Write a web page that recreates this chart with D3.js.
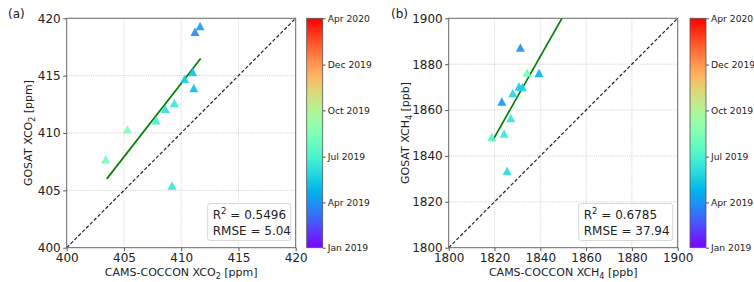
<!DOCTYPE html>
<html>
<head>
<meta charset="utf-8">
<script src="https://cdn.jsdelivr.net/npm/d3@7"></script>
<style>
body { margin: 0; background: #fff; }
svg { font-family: "DejaVu Sans", sans-serif; }
</style>
</head>
<body>
<svg id="chart" width="754" height="282"></svg>
<script>
// panel (a) - XCO2 [ppm]
var co2Cams  = [411.65, 411.2, 411.0, 410.3, 411.1, 409.4, 408.6, 407.8, 405.3, 403.4, 409.2];
var co2Gosat = [419.3, 418.8, 415.3, 414.7, 413.9, 412.6, 412.1, 411.1, 410.3, 407.7, 405.4];
var co2Dates = ["2019-04-08", "2019-03-25", "2019-05-08", "2019-05-18", "2019-05-04", "2019-06-10",
                "2019-06-05", "2019-06-20", "2019-08-15", "2019-08-05", "2019-06-12"];
var co2Fit   = [[403.5, 406.0], [411.7, 416.5]];
var co2Ticks = [400, 405, 410, 415, 420];
var co2Stats = ["0.5496", "5.04"];

// panel (b) - XCH4 [ppb]
var ch4Cams  = [1831.3, 1834.2, 1839.4, 1830.7, 1832.2, 1828.0, 1823.2, 1827.1, 1824.2, 1818.8, 1825.5];
var ch4Gosat = [1887.2, 1876.3, 1876.0, 1870.2, 1869.9, 1867.3, 1863.6, 1856.4, 1849.7, 1848.1, 1833.4];
var ch4Dates = ["2019-03-28", "2019-08-05", "2019-04-25", "2019-05-15", "2019-05-20", "2019-05-25",
                "2019-04-05", "2019-06-10", "2019-06-15", "2019-07-10", "2019-05-30"];
var ch4Fit   = [[1819.1, 1846.6], [1852, 1904.5]];
var ch4Ticks = [1800, 1820, 1840, 1860, 1880, 1900];
var ch4Stats = ["0.6785", "37.94"];

// colour bar (time)
var cbarRange  = ["2019-01-01", "2020-04-01"];
var cbarTicks  = ["2019-01-01", "2019-04-01", "2019-07-01", "2019-10-01", "2019-12-31", "2020-04-01"];
var cbarLabels = ["Jan 2019", "Apr 2019", "Jul 2019", "Oct 2019", "Dec 2019", "Apr 2020"];

var parse = d3.utcParse("%Y-%m-%d");

// matplotlib "rainbow" colormap
function rainbow(t) {
    var r = Math.min(1, Math.abs(2 * t - 0.5));
    var g = Math.sin(Math.PI * t);
    var b = Math.cos(Math.PI * t / 2);
    return d3.rgb(r * 255, g * 255, Math.max(0, b) * 255).formatHex();
}

var color = d3.scaleSequential(rainbow).domain(cbarRange.map(parse));

var svg = d3.select("#chart");
var defs = svg.append("defs");

var grad = defs.append("linearGradient").attr("id", "cbgrad")
    .attr("x1", 0).attr("y1", 1).attr("x2", 0).attr("y2", 0);
d3.range(0, 1.0001, 0.05).forEach(function(t) {
    grad.append("stop").attr("offset", t).attr("stop-color", rainbow(t));
});

function drawPanel(opt) {
    var x = d3.scaleLinear().domain(opt.domain).range([opt.left, opt.left + 229]);
    var y = d3.scaleLinear().domain(opt.domain).range([247.7, 18.3]);
    var g = svg.append("g");

    var clipId = "clip" + opt.tag;
    defs.append("clipPath").attr("id", clipId).append("rect")
        .attr("x", x.range()[0]).attr("y", 18.3).attr("width", 229).attr("height", 229.4);

    // grid
    var inner = opt.ticks.slice(1, -1);
    g.selectAll(".gx").data(inner).enter().append("line")
        .attr("x1", function(d) { return x(d); }).attr("x2", function(d) { return x(d); })
        .attr("y1", y.range()[0]).attr("y2", y.range()[1])
        .attr("stroke", "#c8c8c8").attr("stroke-width", 0.9).attr("stroke-dasharray", "1,1.2");
    g.selectAll(".gy").data(inner).enter().append("line")
        .attr("y1", function(d) { return y(d); }).attr("y2", function(d) { return y(d); })
        .attr("x1", x.range()[0]).attr("x2", x.range()[1])
        .attr("stroke", "#c8c8c8").attr("stroke-width", 0.9).attr("stroke-dasharray", "1,1.2");

    // 1:1 line
    g.append("line")
        .attr("x1", x(opt.domain[0])).attr("y1", y(opt.domain[0]))
        .attr("x2", x(opt.domain[1])).attr("y2", y(opt.domain[1]))
        .attr("stroke", "#222").attr("stroke-width", 1.2).attr("stroke-dasharray", "3.5,2");

    // regression line
    g.append("line").attr("clip-path", "url(#" + clipId + ")")
        .attr("x1", x(opt.fit[0][0])).attr("y1", y(opt.fit[0][1]))
        .attr("x2", x(opt.fit[1][0])).attr("y2", y(opt.fit[1][1]))
        .attr("stroke", "#008000").attr("stroke-width", 1.7);

    // points
    var tri = "M0,-4.5L4.5,4L-4.5,4Z";
    g.selectAll(".pt").data(opt.cams).enter().append("path")
        .attr("d", tri)
        .attr("transform", function(d, i) { return "translate(" + x(d) + "," + y(opt.gosat[i]) + ")"; })
        .attr("fill", function(d, i) { return color(parse(opt.dates[i])); })
        .attr("fill-opacity", 0.9);

    // axes
    var ax = g.append("g").attr("transform", "translate(0,247.7)")
        .call(d3.axisBottom(x).tickValues(opt.ticks).tickFormat(d3.format("d"))
            .tickSize(3.5).tickPadding(2.5));
    var ay = g.append("g").attr("transform", "translate(" + x.range()[0] + ",0)")
        .call(d3.axisLeft(y).tickValues(opt.ticks).tickFormat(d3.format("d"))
            .tickSize(3.5).tickPadding(2.5));
    [ax, ay].forEach(function(a) {
        a.select(".domain").remove();
        a.selectAll("line").attr("stroke", "#555");
        a.selectAll("text").attr("fill", "#222").attr("font-size", 12)
            .attr("font-family", "DejaVu Sans, sans-serif");
    });

    // spines
    g.append("rect").attr("x", x.range()[0]).attr("y", 18.3)
        .attr("width", 229).attr("height", 229.4)
        .attr("fill", "none").attr("stroke", "#666").attr("stroke-width", 1);

    // axis titles
    var xt = g.append("text").attr("x", x.range()[0] + 114.5).attr("y", 276)
        .attr("text-anchor", "middle").attr("font-size", 11).attr("fill", "#222");
    xt.append("tspan").text("CAMS-COCCON X" + opt.gas[0]);
    xt.append("tspan").text(opt.gas[1]).attr("font-size", 8).attr("dy", 2.5);
    xt.append("tspan").text(" [" + opt.unit + "]").attr("dy", -2.5);

    var yt = g.append("text").attr("transform", "translate(" + opt.ytitleX + ",133) rotate(-90)")
        .attr("text-anchor", "middle").attr("font-size", 11).attr("fill", "#222");
    yt.append("tspan").text("GOSAT X" + opt.gas[0]);
    yt.append("tspan").text(opt.gas[1]).attr("font-size", 8).attr("dy", 2.5);
    yt.append("tspan").text(" [" + opt.unit + "]").attr("dy", -2.5);

    // panel letter
    g.append("text").attr("x", opt.letterX).attr("y", 18).attr("font-size", 12)
        .attr("fill", "#222").text(opt.letter);

    // stats box
    var bx = x.range()[1] - 5 - opt.boxW, by = 203.5;
    g.append("rect").attr("x", bx).attr("y", by).attr("width", opt.boxW).attr("height", 37)
        .attr("rx", 2.5).attr("fill", "#fff").attr("fill-opacity", 0.85)
        .attr("stroke", "#d8d8d8").attr("stroke-width", 1);
    var t1 = g.append("text").attr("x", bx + 5).attr("y", by + 15.5).attr("font-size", 12).attr("fill", "#222");
    t1.append("tspan").text("R");
    t1.append("tspan").text("2").attr("font-size", 8.5).attr("dy", -5);
    t1.append("tspan").text(" = " + opt.stats[0]).attr("dy", 5);
    g.append("text").attr("x", bx + 5).attr("y", by + 31).attr("font-size", 12).attr("fill", "#222")
        .text("RMSE = " + opt.stats[1]);

    // colour bar
    var cy = d3.scaleUtc().domain(cbarRange.map(parse)).range([247.7, 18.3]);
    var cb = g.append("g");
    cb.append("rect").attr("x", opt.cbarX).attr("y", 18.3).attr("width", 16).attr("height", 229.4)
        .attr("fill", "url(#cbgrad)").attr("stroke", "#555").attr("stroke-width", 0.8);
    var ca = cb.append("g").attr("transform", "translate(" + (opt.cbarX + 16) + ",0)")
        .call(d3.axisRight(cy).tickValues(cbarTicks.map(parse))
            .tickFormat(function(d, i) { return cbarLabels[i]; })
            .tickSize(3).tickPadding(2));
    ca.select(".domain").remove();
    ca.selectAll("line").attr("stroke", "#555");
    ca.selectAll("text").attr("fill", "#222").attr("font-size", 9.2)
        .attr("font-family", "DejaVu Sans, sans-serif");
}

drawPanel({
    tag: "a", letter: "(a)", letterX: 8, left: 66.7, domain: [400, 420], ticks: co2Ticks,
    cams: co2Cams, gosat: co2Gosat, dates: co2Dates, fit: co2Fit, stats: co2Stats,
    gas: ["CO", "2"], unit: "ppm", ytitleX: 32, boxW: 83, cbarX: 306.7
});
drawPanel({
    tag: "b", letter: "(b)", letterX: 391, left: 448.7, domain: [1800, 1900], ticks: ch4Ticks,
    cams: ch4Cams, gosat: ch4Gosat, dates: ch4Dates, fit: ch4Fit, stats: ch4Stats,
    gas: ["CH", "4"], unit: "ppb", ytitleX: 409, boxW: 94, cbarX: 690
});
</script>
</body>
</html>
